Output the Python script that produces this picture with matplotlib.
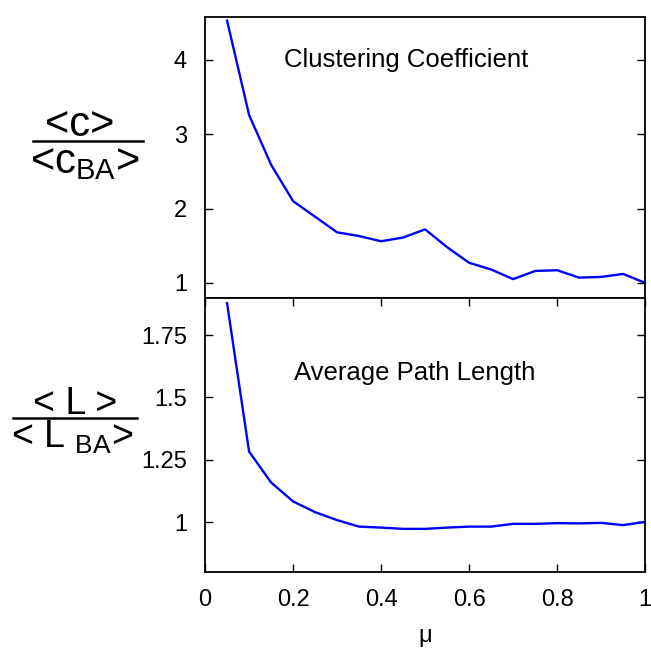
import matplotlib
matplotlib.use('Agg')
import matplotlib.pyplot as plt
from matplotlib.lines import Line2D

plt.rcParams['font.family'] = ['Liberation Sans', 'DejaVu Sans']
plt.rcParams['mathtext.fontset'] = 'custom'
plt.rcParams['mathtext.rm'] = 'Liberation Sans'
plt.rcParams['mathtext.it'] = 'Liberation Sans'

mu = [0.05, 0.10, 0.15, 0.20, 0.25, 0.30, 0.35, 0.40, 0.45, 0.50,
      0.55, 0.60, 0.65, 0.70, 0.75, 0.80, 0.85, 0.90, 0.95, 1.00]
clustering = [4.53, 3.26, 2.59, 2.10, 1.89, 1.68, 1.63, 1.56, 1.61, 1.72,
              1.48, 1.27, 1.18, 1.05, 1.16, 1.17, 1.07, 1.08, 1.12, 1.00]
path_length = [1.878, 1.283, 1.159, 1.083, 1.040, 1.008, 0.982, 0.978, 0.973, 0.973,
               0.978, 0.982, 0.982, 0.993, 0.993, 0.996, 0.995, 0.997, 0.988, 1.001]

x_ticks = [0, 0.2, 0.4, 0.6, 0.8, 1]
x_labels = ['0', '0.2', '0.4', '0.6', '0.8', '1']
c_ticks = [1, 2, 3, 4]
l_ticks = [1, 1.25, 1.5, 1.75]
l_labels = ['1', '1.25', '1.5', '1.75']

fig = plt.figure(figsize=(6.51, 6.50), dpi=100)
ax1 = fig.add_axes([0.315, 0.542, 0.676, 0.432])
ax2 = fig.add_axes([0.315, 0.12, 0.676, 0.422])

for ax in (ax1, ax2):
    ax.set_xlim(0, 1)
    ax.tick_params(direction='in', length=6, width=1, labelsize=17,
                   left=True, right=True, top=True, bottom=True)
    for s in ax.spines.values():
        s.set_linewidth(1.3)

ax1.plot(mu, clustering, color='#0000ff', lw=1.7)
ax1.set_ylim(0.8, 4.58)
ax1.set_yticks(c_ticks)
ax1.set_xticks(x_ticks)
ax1.tick_params(axis='x', top=False, bottom=False, labelbottom=False)
ax1.tick_params(axis='y', pad=13)
ax1.text(0.456, 0.847, 'Clustering Coefficient', transform=ax1.transAxes,
         ha='center', va='center', fontsize=18.5)

ax2.plot(mu, path_length, color='#0000ff', lw=1.7)
ax2.set_ylim(0.8, 1.9)
ax2.set_yticks(l_ticks)
ax2.set_yticklabels(l_labels)
ax2.set_xticks(x_ticks)
ax2.set_xticklabels(x_labels)
ax2.tick_params(axis='x', pad=12)
ax2.tick_params(axis='y', pad=13)
ax2.set_xlabel('μ', fontsize=17, labelpad=10)
ax2.text(0.477, 0.726, 'Average Path Length', transform=ax2.transAxes,
         ha='center', va='center', fontsize=18.5)

# y labels drawn as fractions
fig.text(0.122, 0.807, '<c>', ha='center', va='center', fontsize=30)
fig.add_artist(Line2D([0.05, 0.22], [0.783, 0.783], color='black', lw=1.8,
                      transform=fig.transFigure))
fig.text(0.13, 0.751, r'<c$_{\mathregular{BA}}$>', ha='center', va='center', fontsize=30)

fig.text(0.115, 0.378, '< L >', ha='center', va='center', fontsize=27)
fig.add_artist(Line2D([0.02, 0.21], [0.357, 0.357], color='black', lw=1.8,
                      transform=fig.transFigure))
fig.text(0.11, 0.327, r'< L $_{\mathregular{BA}}$>', ha='center', va='center', fontsize=27)

fig.savefig('out.png', dpi=100)
